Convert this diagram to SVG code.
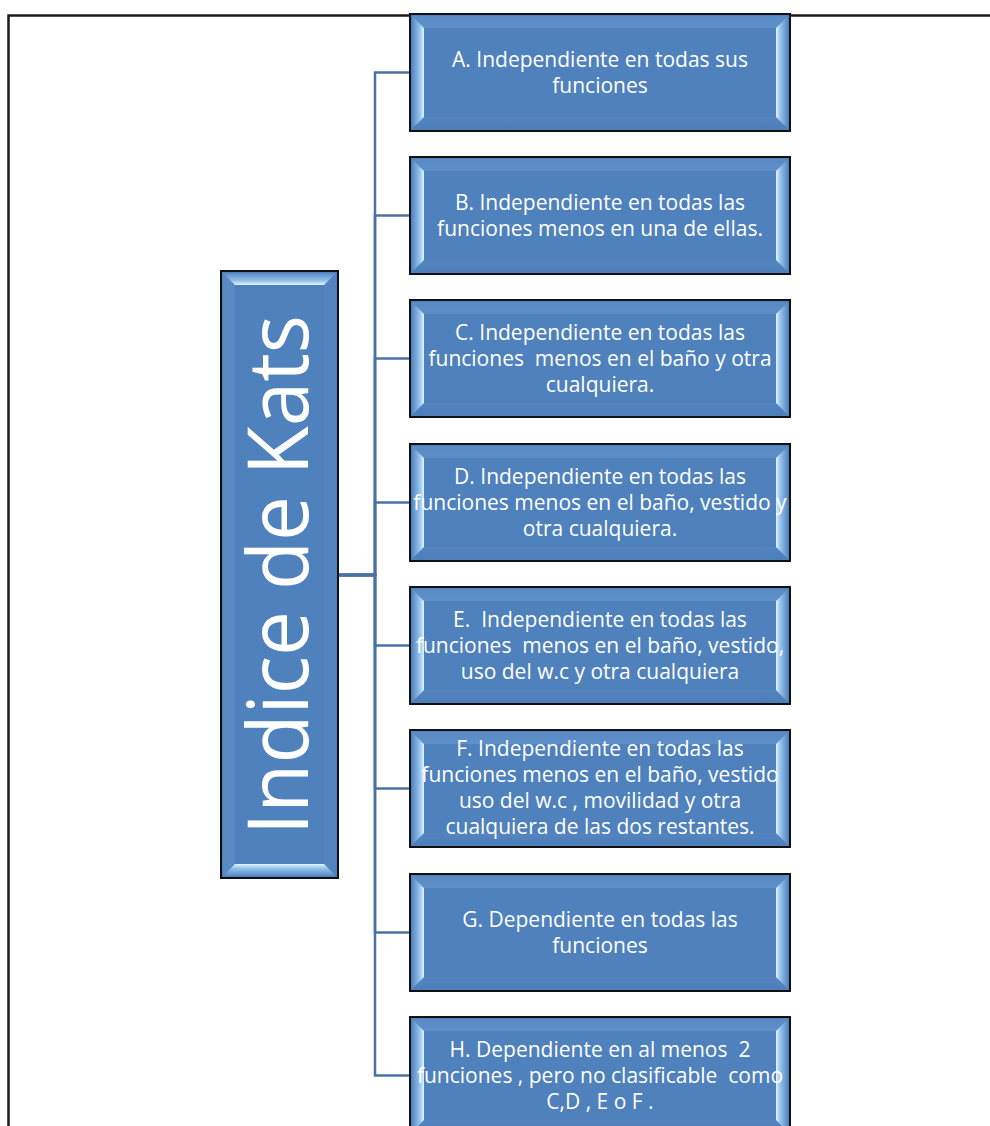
<svg xmlns="http://www.w3.org/2000/svg" xmlns:xlink="http://www.w3.org/1999/xlink" width="990" height="1126" viewBox="0 0 990 1126">
  <style>
    .lbl { font-family: "Open Sans", "Liberation Sans", sans-serif; font-size: 21px; fill: #ffffff; text-anchor: middle; white-space: pre; }
    .root { font-family: "Open Sans", "Liberation Sans", sans-serif; font-size: 84px; fill: #ffffff; text-anchor: middle; }
    .link { fill: none; stroke: #4a71a6; stroke-width: 2.5; }
    .page { fill: none; stroke: #1a1a1a; stroke-width: 2.5; }
  </style>
  <defs>
    <linearGradient id="hiL" x1="0" y1="0" x2="1" y2="0">
      <stop offset="0" stop-color="#5788c3"/>
      <stop offset="0.65" stop-color="#94c3ec"/>
      <stop offset="1" stop-color="#e4f4fe"/>
    </linearGradient>
    <linearGradient id="hiR" x1="1" y1="0" x2="0" y2="0">
      <stop offset="0" stop-color="#5788c3"/>
      <stop offset="0.65" stop-color="#94c3ec"/>
      <stop offset="1" stop-color="#e4f4fe"/>
    </linearGradient>
    <linearGradient id="hiT" x1="0" y1="0" x2="0" y2="1">
      <stop offset="0" stop-color="#5788c3"/>
      <stop offset="0.65" stop-color="#94c3ec"/>
      <stop offset="1" stop-color="#e4f4fe"/>
    </linearGradient>
    <linearGradient id="hiB" x1="0" y1="1" x2="0" y2="0">
      <stop offset="0" stop-color="#5788c3"/>
      <stop offset="0.65" stop-color="#94c3ec"/>
      <stop offset="1" stop-color="#e4f4fe"/>
    </linearGradient>
    <linearGradient id="softT" x1="0" y1="0" x2="0" y2="1">
      <stop offset="0" stop-color="#5a8ac4"/>
      <stop offset="1" stop-color="#5f8fc8"/>
    </linearGradient>
    <linearGradient id="softB" x1="0" y1="1" x2="0" y2="0">
      <stop offset="0" stop-color="#4d7eb9"/>
      <stop offset="1" stop-color="#5485c0"/>
    </linearGradient>

    <!-- bevelled child box, 380 x 117 -->
    <g id="childBox">
      <rect x="0" y="0" width="380" height="117" fill="#4f81bd" stroke="#111" stroke-width="2"/>
      <polygon points="2,2 378,2 366,14 14,14" fill="url(#softT)"/>
      <polygon points="2,115 378,115 366,103 14,103" fill="url(#softB)"/>
      <polygon points="2,2 14,14 14,103 2,115" fill="url(#hiL)"/>
      <polygon points="378,2 366,14 366,103 378,115" fill="url(#hiR)"/>
    </g>
  </defs>

  <rect width="990" height="1126" fill="#ffffff"/>
  <path class="page" d="M8.5,1126 V15.5 H990"/>

  <!-- connectors -->
  <g id="connectors">
    <path class="link" d="M338,575 H375 V72.5 H410"/>
    <path class="link" d="M338,575 H375 V215.5 H410"/>
    <path class="link" d="M338,575 H375 V358.5 H410"/>
    <path class="link" d="M338,575 H375 V502.5 H410"/>
    <path class="link" d="M338,575 H375 V645.5 H410"/>
    <path class="link" d="M338,575 H375 V788.5 H410"/>
    <path class="link" d="M338,575 H375 V932.5 H410"/>
    <path class="link" d="M338,575 H375 V1075.5 H410"/>
  </g>

  <!-- root node -->
  <g id="node-root">
    <rect x="221" y="271" width="117" height="607" fill="#4f81bd" stroke="#111" stroke-width="2"/>
    <polygon points="223,273 223,876 235,864 235,285" fill="#5a8ac4"/>
    <polygon points="336,273 336,876 324,864 324,285" fill="#5283bf"/>
    <polygon points="223,273 336,273 324,285 235,285" fill="url(#hiT)"/>
    <polygon points="223,876 336,876 324,864 235,864" fill="url(#hiB)"/>
    <text class="root" transform="translate(308,575) rotate(-90)" textLength="520" lengthAdjust="spacingAndGlyphs">Indice de Kats</text>
  </g>

  <g id="node-a">
    <use xlink:href="#childBox" x="410" y="14"/>
    <text class="lbl" x="600" y="66.5">A. Independiente en todas sus</text>
    <text class="lbl" x="600" y="92.5">funciones</text>
  </g>

  <g id="node-b">
    <use xlink:href="#childBox" x="410" y="157"/>
    <text class="lbl" x="600" y="209.5">B. Independiente en todas las</text>
    <text class="lbl" x="600" y="235.5">funciones menos en una de ellas.</text>
  </g>

  <g id="node-c">
    <use xlink:href="#childBox" x="410" y="300"/>
    <text class="lbl" x="600" y="339.5">C. Independiente en todas las</text>
    <text class="lbl" x="600" y="365.5">funciones  menos en el baño y otra</text>
    <text class="lbl" x="600" y="391.5">cualquiera.</text>
  </g>

  <g id="node-d">
    <use xlink:href="#childBox" x="410" y="444"/>
    <text class="lbl" x="600" y="483.5">D. Independiente en todas las</text>
    <text class="lbl" x="600" y="509.5">funciones menos en el baño, vestido y</text>
    <text class="lbl" x="600" y="535.5">otra cualquiera.</text>
  </g>

  <g id="node-e">
    <use xlink:href="#childBox" x="410" y="587"/>
    <text class="lbl" x="600" y="626.5">E.  Independiente en todas las</text>
    <text class="lbl" x="600" y="652.5">funciones  menos en el baño, vestido,</text>
    <text class="lbl" x="600" y="678.5">uso del w.c y otra cualquiera</text>
  </g>

  <g id="node-f">
    <use xlink:href="#childBox" x="410" y="730"/>
    <text class="lbl" x="600" y="755.5">F. Independiente en todas las</text>
    <text class="lbl" x="600" y="781.5">funciones menos en el baño, vestido</text>
    <text class="lbl" x="600" y="807.5">uso del w.c , movilidad y otra</text>
    <text class="lbl" x="600" y="833.5">cualquiera de las dos restantes.</text>
  </g>

  <g id="node-g">
    <use xlink:href="#childBox" x="410" y="874"/>
    <text class="lbl" x="600" y="926.5">G. Dependiente en todas las</text>
    <text class="lbl" x="600" y="952.5">funciones</text>
  </g>

  <g id="node-h">
    <use xlink:href="#childBox" x="410" y="1017"/>
    <text class="lbl" x="600" y="1056.5">H. Dependiente en al menos  2</text>
    <text class="lbl" x="600" y="1082.5">funciones , pero no clasificable  como</text>
    <text class="lbl" x="600" y="1108.5">C,D , E o F .</text>
  </g>
</svg>
